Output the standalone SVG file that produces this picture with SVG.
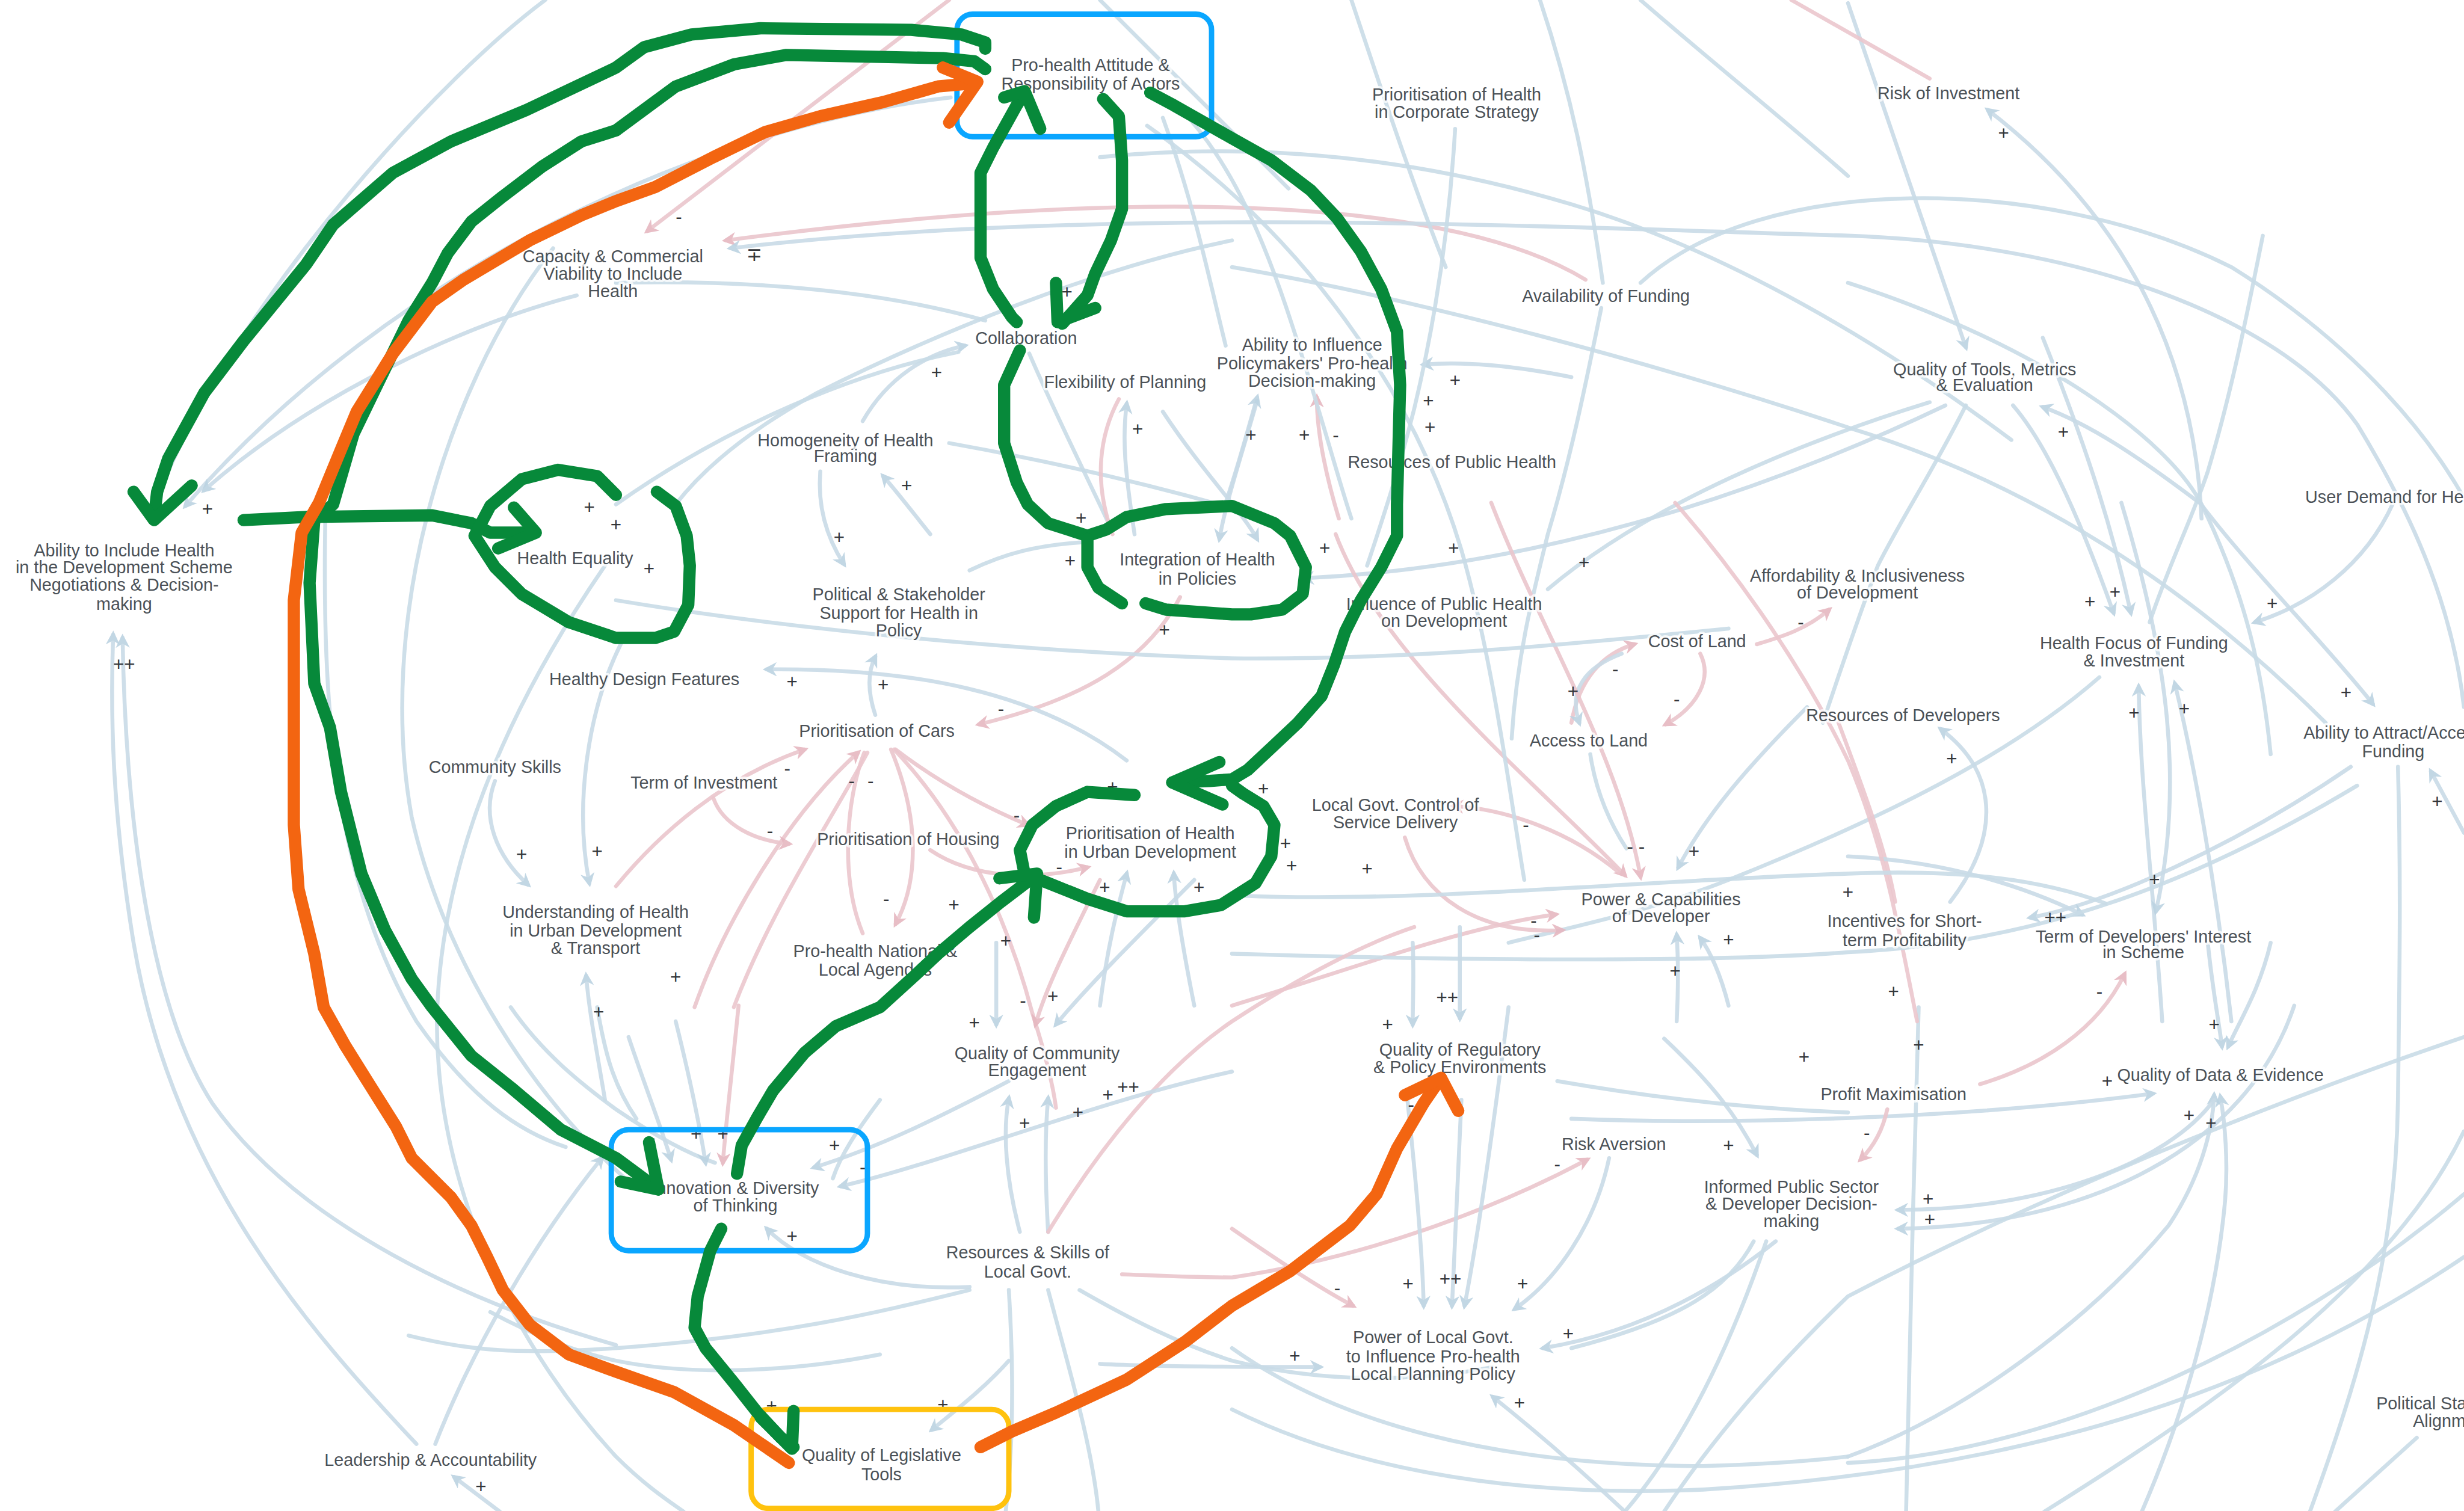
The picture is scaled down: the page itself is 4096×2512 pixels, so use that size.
<svg xmlns="http://www.w3.org/2000/svg" width="4096" height="2512" viewBox="0 0 4096 2512">
  <defs>
    <style>
      .c path{fill:none;stroke-width:2.5;stroke-linecap:round}
      .b{stroke:#c9dbe7;opacity:.9}
      .p{stroke:#ebc6cd;opacity:.9}
      .ab{marker-end:url(#mb)}
      .ap{marker-end:url(#mp)}
      .node text{font-family:"Liberation Sans",Arial,sans-serif;font-size:11px;fill:#4b5157;text-anchor:middle;paint-order:stroke;stroke:#ffffff;stroke-width:3;stroke-opacity:.75;stroke-linejoin:round}
      .s text{font-family:"Liberation Sans","DejaVu Sans",Arial,sans-serif;font-size:12px;fill:#33363a;text-anchor:middle}
      .g{fill:none;stroke:#07893a;stroke-width:7.8;stroke-linecap:round;stroke-linejoin:round}
      .o{fill:none;stroke:#f36511;stroke-width:7.8;stroke-linecap:round;stroke-linejoin:round}
      .box{fill:none;stroke-width:3.4}
    </style>
    <marker id="mb" viewBox="0 0 10 10" refX="7" refY="5" markerWidth="3.6" markerHeight="3.6" orient="auto" markerUnits="strokeWidth">
      <path d="M0,0 L10,5 L0,10 L3,5 z" fill="#bcd3e2"/>
    </marker>
    <marker id="mp" viewBox="0 0 10 10" refX="7" refY="5" markerWidth="3.6" markerHeight="3.6" orient="auto" markerUnits="strokeWidth">
      <path d="M0,0 L10,5 L0,10 L3,5 z" fill="#e6b7c0"/>
    </marker>
  </defs>
  <rect width="4096" height="2512" fill="#ffffff"/>
  <g transform="scale(2.6122)">
    <!-- causal links -->
    <g id="connectors" class="c">
      <path class="b" d="M347 0 C280 50 160 180 107 300"/>
      <path class="b ab" d="M605 62 C450 80 250 170 118 322"/>
      <path class="b ab" d="M367 188 C300 205 200 250 130 312"/>
      <path class="b" d="M352 158 C280 250 240 400 262 520 C280 600 330 690 400 752"/>
      <path class="b ab" d="M265 919 C200 850 110 750 85 600 C72 520 70 460 72 404"/>
      <path class="b ab" d="M392 856 C300 830 190 780 135 702 C95 640 80 520 78 406"/>
      <path class="b ab" d="M277 919 C300 860 340 790 383 737"/>
      <path class="b ab" d="M318 962 L289 940"/>
      <path class="b" d="M385 360 C330 440 280 540 278 650 C278 760 330 860 392 927 C410 945 425 955 435 962"/>
      <path class="b ab" d="M315 497 C306 520 316 545 336 563"/>
      <path class="b ab" d="M395 410 C375 450 365 510 375 562"/>
      <path class="b ab" d="M385 700 C380 670 375 645 373 621"/>
      <path class="b" d="M207 331 C205 450 212 560 265 650 C300 700 330 720 360 730"/>
      <path class="b" d="M325 641 C345 670 370 690 392 706 C420 725 440 735 455 740"/>
      <path class="b" d="M380 641 C385 670 390 690 405 712"/>
      <path class="b" d="M312 835 C340 850 365 860 392 866 C450 878 520 870 560 862"/>
      <path class="p ap" d="M604 0 L412 147"/>
      <path class="p ap" d="M1009 178 C930 130 750 115 462 153"/>
      <path class="b ab" d="M1568 450 C1560 380 1531 321 1500 270 C1450 200 1320 155 1176 150 C1000 145 700 130 465 158"/>
      <path class="b" d="M392 180 C480 178 560 185 627 204"/>
      <path class="b ab" d="M549 268 C565 240 590 225 614 220"/>
      <path class="b ab" d="M592 340 C580 325 570 312 562 303"/>
      <path class="b" d="M392 321 C450 280 530 240 610 224"/>
      <path class="b" d="M784 153 C700 170 600 210 520 250 C480 272 450 295 430 321"/>
      <path class="b" d="M604 282 C660 292 720 305 790 325"/>
      <path class="b" d="M655 225 C670 260 690 300 705 332"/>
      <path class="p" d="M712 254 C698 280 697 310 708 340"/>
      <path class="b ab" d="M722 340 C716 300 714 280 717 257"/>
      <path class="b ab" d="M800 255 C790 290 780 320 776 343"/>
      <path class="b ab" d="M740 262 C765 300 790 325 800 343"/>
      <path class="b ab" d="M1000 240 C960 232 930 230 906 232"/>
      <path class="b ab" d="M780 320 C790 290 795 270 800 253"/>
      <path class="p ap" d="M852 330 C843 300 838 275 838 253"/>
      <path class="b" d="M926 82 C922 150 912 210 900 260 C890 300 880 330 870 360"/>
      <path class="b" d="M1019 196 C1010 240 1000 290 985 340 C975 380 965 420 962 470"/>
      <path class="b" d="M1228 256 C1150 280 1050 320 985 375"/>
      <path class="b ab" d="M1238 258 C1150 300 1000 360 830 368"/>
      <path class="b" d="M1251 258 C1230 300 1210 330 1195 360 C1180 400 1170 430 1160 460"/>
      <path class="b ab" d="M1176 2 L1251 221"/>
      <path class="p" d="M1140 0 L1228 50"/>
      <path class="b ab" d="M1401 330 C1395 200 1330 120 1265 70"/>
      <path class="b" d="M1044 180 C1120 110 1300 110 1420 170 C1500 220 1550 280 1575 330"/>
      <path class="b" d="M1176 180 C1300 220 1380 280 1401 321 C1430 380 1440 430 1445 480"/>
      <path class="b" d="M1044 0 C1090 40 1140 80 1176 112"/>
      <path class="b ab" d="M1281 258 C1300 280 1320 320 1345 390"/>
      <path class="b ab" d="M1401 321 C1360 290 1330 270 1300 259"/>
      <path class="b ab" d="M1300 215 C1330 290 1345 340 1356 390"/>
      <path class="b" d="M1368 396 C1380 360 1395 330 1405 300 C1420 250 1430 200 1440 150"/>
      <path class="b ab" d="M1523 320 C1505 360 1470 385 1435 396"/>
      <path class="b ab" d="M1400 320 C1430 360 1480 410 1510 448"/>
      <path class="b ab" d="M1568 530 L1547 491"/>
      <path class="b" d="M1526 488 C1528 560 1527 620 1526 700 C1525 800 1500 880 1470 962"/>
      <path class="b ab" d="M1496 488 C1420 540 1340 575 1292 584"/>
      <path class="b ab" d="M1376 650 C1370 560 1362 500 1361 437"/>
      <path class="b ab" d="M1420 650 C1410 560 1395 480 1384 435"/>
      <path class="b" d="M1336 431 C1280 480 1200 520 1100 560 C1050 580 1000 590 960 600"/>
      <path class="b ab" d="M1241 574 C1275 530 1270 490 1235 464"/>
      <path class="p" d="M1170 460 C1185 500 1200 540 1206 574"/>
      <path class="b ab" d="M1176 545 C1240 548 1290 565 1325 582"/>
      <path class="b ab" d="M1350 320 C1380 420 1390 500 1372 580"/>
      <path class="p ap" d="M1260 690 C1300 678 1335 655 1352 620"/>
      <path class="b ab" d="M1405 600 C1408 630 1412 650 1414 666"/>
      <path class="b ab" d="M1445 600 C1438 630 1425 650 1418 666"/>
      <path class="b ab" d="M1176 927 C1250 900 1330 840 1380 780 C1400 750 1408 720 1409 697"/>
      <path class="b ab" d="M1363 962 C1390 900 1410 830 1416 764 C1418 740 1416 715 1413 698"/>
      <path class="b ab" d="M1000 712 C1100 716 1250 712 1370 696"/>
      <path class="p ap" d="M1201 706 C1198 720 1192 730 1184 738"/>
      <path class="b ab" d="M1409 700 C1380 740 1300 770 1208 770"/>
      <path class="b ab" d="M1460 640 C1430 730 1330 780 1208 782"/>
      <path class="b" d="M1176 931 C1300 925 1450 860 1568 760"/>
      <path class="b" d="M1301 962 C1400 900 1520 820 1568 720"/>
      <path class="b" d="M1538 915 L1486 962"/>
      <path class="b" d="M1221 641 C1218 750 1215 850 1213 962"/>
      <path class="b" d="M1059 962 C1100 900 1150 850 1176 825 C1300 760 1450 700 1568 660"/>
      <path class="p ap" d="M1000 460 C1005 432 1020 416 1040 410"/>
      <path class="b ab" d="M1032 416 C1008 425 998 440 1005 460"/>
      <path class="p ap" d="M1082 416 C1090 432 1080 450 1060 461"/>
      <path class="p ap" d="M1118 410 C1135 405 1150 400 1164 388"/>
      <path class="p" d="M1066 320 C1110 370 1150 430 1176 484 C1200 540 1210 600 1220 650"/>
      <path class="p ap" d="M949 320 C980 400 1030 480 1044 558"/>
      <path class="p ap" d="M850 340 C880 420 980 500 1034 557"/>
      <path class="p ap" d="M1030 555 C1000 530 960 515 925 513"/>
      <path class="p ap" d="M894 533 C905 570 940 595 994 592"/>
      <path class="p ap" d="M784 640 C850 620 930 590 990 582"/>
      <path class="b" d="M1012 480 C1015 500 1022 520 1035 540"/>
      <path class="b ab" d="M1150 450 C1110 490 1085 520 1068 552"/>
      <path class="b" d="M790 570 C900 575 1050 560 1176 556 C1250 553 1300 560 1340 575"/>
      <path class="b" d="M784 607 C950 612 1100 612 1176 606 C1300 600 1400 560 1500 500"/>
      <path class="b ab" d="M1067 650 C1068 630 1068 610 1067 595"/>
      <path class="b ab" d="M1100 640 C1095 620 1088 605 1082 597"/>
      <path class="p ap" d="M392 564 C420 530 460 495 512 477"/>
      <path class="p ap" d="M442 641 C460 590 500 520 546 479"/>
      <path class="p" d="M467 641 C490 580 530 520 552 479"/>
      <path class="p" d="M549 594 C535 560 538 510 550 479"/>
      <path class="p ap" d="M567 477 C585 520 585 560 570 588"/>
      <path class="p ap" d="M570 477 C600 500 630 515 654 525"/>
      <path class="p" d="M569 477 C610 520 640 580 657 645 C665 670 670 690 672 705"/>
      <path class="p ap" d="M454 508 C460 525 480 535 502 537"/>
      <path class="p ap" d="M592 541 C620 560 660 560 692 552"/>
      <path class="p ap" d="M751 380 C730 420 690 445 623 461"/>
      <path class="b ab" d="M557 455 C552 440 552 428 557 418"/>
      <path class="b ab" d="M717 484 C660 440 580 425 488 426"/>
      <path class="b" d="M392 382 C500 400 650 415 784 419 C900 420 1000 410 1100 400"/>
      <path class="b ab" d="M522 300 C520 325 528 345 537 359"/>
      <path class="b" d="M617 363 C640 352 660 347 690 345"/>
      <path class="b ab" d="M700 640 C705 600 712 575 717 556"/>
      <path class="b ab" d="M760 640 C752 600 748 575 747 556"/>
      <path class="b ab" d="M634 600 C634 620 634 640 634 652"/>
      <path class="p ap" d="M700 560 C680 600 665 630 659 652"/>
      <path class="b ab" d="M760 560 C720 600 690 630 672 652"/>
      <path class="b ab" d="M649 784 C640 750 638 720 642 699"/>
      <path class="b ab" d="M667 784 C665 750 665 720 667 699"/>
      <path class="p" d="M667 784 C700 730 740 680 784 650 C830 620 870 600 900 590"/>
      <path class="b ab" d="M617 819 C560 822 510 805 488 782"/>
      <path class="b" d="M617 821 C560 835 500 850 392 858 C330 862 300 860 260 850"/>
      <path class="b ab" d="M642 688 C600 710 560 730 518 743"/>
      <path class="b ab" d="M784 682 C700 700 600 740 535 755"/>
      <path class="b ab" d="M642 866 C625 885 605 900 593 910"/>
      <path class="b" d="M642 821 C645 870 645 920 640 962"/>
      <path class="b" d="M667 821 C680 870 695 920 699 962"/>
      <path class="b" d="M687 821 C720 840 750 855 784 866 C840 880 900 880 950 870"/>
      <path class="p ap" d="M714 811 C740 812 760 813 784 813 C870 800 950 770 1010 738"/>
      <path class="p ap" d="M784 782 C810 800 840 820 861 831"/>
      <path class="b ab" d="M895 694 C900 740 905 790 906 831"/>
      <path class="b ab" d="M930 700 C928 750 926 790 924 831"/>
      <path class="b ab" d="M960 641 C950 720 940 790 932 831"/>
      <path class="b ab" d="M1024 737 C1015 780 990 815 964 833"/>
      <path class="b ab" d="M1130 790 C1080 830 1030 850 982 858"/>
      <path class="b ab" d="M700 868 C740 870 800 870 840 870"/>
      <path class="b ab" d="M1034 962 C1000 930 970 905 950 889"/>
      <path class="b ab" d="M1059 661 C1090 690 1105 710 1118 735"/>
      <path class="b" d="M991 688 C1060 700 1120 706 1176 708"/>
      <path class="b" d="M784 858 C850 905 950 933 1084 933 C1120 932 1150 930 1176 927"/>
      <path class="b" d="M784 897 C850 930 950 954 1084 948 C1300 935 1450 880 1568 800"/>
      <path class="b" d="M1116 790 C1100 820 1070 840 1000 858"/>
      <path class="b" d="M1124 790 C1100 860 1070 920 1034 962"/>
      <path class="b ab" d="M899 600 C900 620 899 640 899 652"/>
      <path class="b ab" d="M929 590 C929 615 929 630 929 648"/>
      <path class="b ab" d="M400 660 C410 690 420 715 427 738"/>
      <path class="b ab" d="M430 650 C440 690 445 715 449 740"/>
      <path class="p ap" d="M470 640 C465 690 462 715 460 740"/>
      <path class="b" d="M560 700 C545 720 535 735 530 750"/>
      <path class="b" d="M784 170 C900 190 1050 230 1176 272 C1300 310 1400 380 1480 460"/>
      <path class="b" d="M700 100 C800 90 900 100 1000 130 C1100 160 1200 220 1280 280"/>
      <path class="b" d="M860 0 C880 60 900 120 920 170"/>
      <path class="b" d="M700 0 C740 40 780 80 820 120"/>
      <path class="b" d="M980 0 C1000 60 1010 110 1020 180"/>
      <path class="b" d="M752 70 C780 100 800 140 820 200 C840 260 850 300 860 330"/>
      <path class="b" d="M740 75 C760 130 770 180 780 220"/>
      <path class="b" d="M730 80 C830 150 900 250 930 350 C950 420 960 500 970 560"/>
    </g>

    <!-- variables -->
    <g id="n-prohealth-attitude" class="node"><text><tspan x="694" y="45">Pro-health Attitude &amp;</tspan><tspan x="694" y="57">Responsibility of Actors</tspan></text></g>
    <g id="n-corporate-strategy" class="node"><text><tspan x="927" y="64">Prioritisation of Health</tspan><tspan x="927" y="75">in Corporate Strategy</tspan></text></g>
    <g id="n-risk-investment" class="node"><text><tspan x="1240" y="63">Risk of Investment</tspan></text></g>
    <g id="n-capacity" class="node"><text><tspan x="390" y="167">Capacity &amp; Commercial</tspan><tspan x="390" y="178">Viability to Include</tspan><tspan x="390" y="189">Health</tspan></text></g>
    <g id="n-collaboration" class="node"><text><tspan x="653" y="219">Collaboration</tspan></text></g>
    <g id="n-funding" class="node"><text><tspan x="1022" y="192">Availability of Funding</tspan></text></g>
    <g id="n-influence-policymakers" class="node"><text><tspan x="835" y="223">Ability to Influence</tspan><tspan x="835" y="235">Policymakers' Pro-health</tspan><tspan x="835" y="246">Decision-making</tspan></text></g>
    <g id="n-flexibility" class="node"><text><tspan x="716" y="247">Flexibility of Planning</tspan></text></g>
    <g id="n-tools-metrics" class="node"><text><tspan x="1263" y="239">Quality of Tools, Metrics</tspan><tspan x="1263" y="249">&amp; Evaluation</tspan></text></g>
    <g id="n-homogeneity" class="node"><text><tspan x="538" y="284">Homogeneity of Health</tspan><tspan x="538" y="294">Framing</tspan></text></g>
    <g id="n-public-health-resources" class="node"><text><tspan x="924" y="298">Resources of Public Health</tspan></text></g>
    <g id="n-user-demand" class="node"><text style="text-anchor:start"><tspan x="1467" y="320">User Demand for Health</tspan></text></g>
    <g id="n-include-health" class="node"><text><tspan x="79" y="354">Ability to Include Health</tspan><tspan x="79" y="365">in the Development Scheme</tspan><tspan x="79" y="376">Negotiations &amp; Decision-</tspan><tspan x="79" y="388">making</tspan></text></g>
    <g id="n-health-equality" class="node"><text><tspan x="366" y="359">Health Equality</tspan></text></g>
    <g id="n-integration" class="node"><text><tspan x="762" y="360">Integration of Health</tspan><tspan x="762" y="372">in Policies</tspan></text></g>
    <g id="n-political-support" class="node"><text><tspan x="572" y="382">Political &amp; Stakeholder</tspan><tspan x="572" y="394">Support for Health in</tspan><tspan x="572" y="405">Policy</tspan></text></g>
    <g id="n-affordability" class="node"><text><tspan x="1182" y="370">Affordability &amp; Inclusiveness</tspan><tspan x="1182" y="381">of Development</tspan></text></g>
    <g id="n-influence-ph" class="node"><text><tspan x="919" y="388">Influence of Public Health</tspan><tspan x="919" y="399">on Development</tspan></text></g>
    <g id="n-health-focus" class="node"><text><tspan x="1358" y="413">Health Focus of Funding</tspan><tspan x="1358" y="424">&amp; Investment</tspan></text></g>
    <g id="n-cost-land" class="node"><text><tspan x="1080" y="412">Cost of Land</tspan></text></g>
    <g id="n-healthy-design" class="node"><text><tspan x="410" y="436">Healthy Design Features</tspan></text></g>
    <g id="n-dev-resources" class="node"><text><tspan x="1211" y="459">Resources of Developers</tspan></text></g>
    <g id="n-attract-funding" class="node"><text><tspan x="1523" y="470">Ability to Attract/Access</tspan><tspan x="1523" y="482">Funding</tspan></text></g>
    <g id="n-cars" class="node"><text><tspan x="558" y="469">Prioritisation of Cars</tspan></text></g>
    <g id="n-access-land" class="node"><text><tspan x="1011" y="475">Access to Land</tspan></text></g>
    <g id="n-community-skills" class="node"><text><tspan x="315" y="492">Community Skills</tspan></text></g>
    <g id="n-term-investment" class="node"><text><tspan x="448" y="502">Term of Investment</tspan></text></g>
    <g id="n-service-delivery" class="node"><text><tspan x="888" y="516">Local Govt. Control of</tspan><tspan x="888" y="527">Service Delivery</tspan></text></g>
    <g id="n-health-urban" class="node"><text><tspan x="732" y="534">Prioritisation of Health</tspan><tspan x="732" y="546">in Urban Development</tspan></text></g>
    <g id="n-housing" class="node"><text><tspan x="578" y="538">Prioritisation of Housing</tspan></text></g>
    <g id="n-developer-power" class="node"><text><tspan x="1057" y="576">Power &amp; Capabilities</tspan><tspan x="1057" y="587">of Developer</tspan></text></g>
    <g id="n-short-term" class="node"><text><tspan x="1212" y="590">Incentives for Short-</tspan><tspan x="1212" y="602">term Profitability</tspan></text></g>
    <g id="n-developer-interest" class="node"><text><tspan x="1364" y="600">Term of Developers' Interest</tspan><tspan x="1364" y="610">in Scheme</tspan></text></g>
    <g id="n-understanding" class="node"><text><tspan x="379" y="584">Understanding of Health</tspan><tspan x="379" y="596">in Urban Development</tspan><tspan x="379" y="607">&amp; Transport</tspan></text></g>
    <g id="n-agendas" class="node"><text><tspan x="557" y="609">Pro-health National &amp;</tspan><tspan x="557" y="621">Local Agendas</tspan></text></g>
    <g id="n-community-engagement" class="node"><text><tspan x="660" y="674">Quality of Community</tspan><tspan x="660" y="685">Engagement</tspan></text></g>
    <g id="n-regulatory" class="node"><text><tspan x="929" y="672">Quality of Regulatory</tspan><tspan x="929" y="683">&amp; Policy Environments</tspan></text></g>
    <g id="n-profit" class="node"><text><tspan x="1205" y="700">Profit Maximisation</tspan></text></g>
    <g id="n-data-evidence" class="node"><text><tspan x="1413" y="688">Quality of Data &amp; Evidence</tspan></text></g>
    <g id="n-risk-aversion" class="node"><text><tspan x="1027" y="732">Risk Aversion</tspan></text></g>
    <g id="n-innovation" class="node"><text><tspan x="468" y="760">Innovation &amp; Diversity</tspan><tspan x="468" y="771">of Thinking</tspan></text></g>
    <g id="n-informed" class="node"><text><tspan x="1140" y="759">Informed Public Sector</tspan><tspan x="1140" y="770">&amp; Developer Decision-</tspan><tspan x="1140" y="781">making</tspan></text></g>
    <g id="n-local-govt-skills" class="node"><text><tspan x="654" y="801">Resources &amp; Skills of</tspan><tspan x="654" y="813">Local Govt.</tspan></text></g>
    <g id="n-local-govt-power" class="node"><text><tspan x="912" y="855">Power of Local Govt.</tspan><tspan x="912" y="867">to Influence Pro-health</tspan><tspan x="912" y="878">Local Planning Policy</tspan></text></g>
    <g id="n-political-alignment" class="node"><text><tspan x="1562" y="897">Political Stakeholder</tspan><tspan x="1560" y="908">Alignment</tspan></text></g>
    <g id="n-legislative" class="node"><text><tspan x="561" y="930">Quality of Legislative</tspan><tspan x="561" y="942">Tools</tspan></text></g>
    <g id="n-leadership" class="node"><text><tspan x="274" y="933">Leadership &amp; Accountability</tspan></text></g>

    <!-- link polarities -->
    <g id="polarity" class="s">
      <text x="132" y="328">+</text><text x="432" y="142">-</text><text x="480" y="166">∓</text>
      <text x="596" y="241">+</text><text x="724" y="277">+</text><text x="679" y="190">+</text>
      <text x="796" y="281">+</text><text x="830" y="281">+</text><text x="850" y="281">-</text>
      <text x="926" y="246">+</text><text x="909" y="259">+</text><text x="910" y="276">+</text>
      <text x="577" y="313">+</text><text x="375" y="327">+</text><text x="392" y="338">+</text><text x="413" y="366">+</text>
      <text x="534" y="346">+</text><text x="688" y="334">+</text><text x="681" y="361">+</text><text x="741" y="405">+</text>
      <text x="843" y="353">+</text><text x="925" y="353">+</text><text x="1008" y="362">+</text>
      <text x="504" y="438">+</text><text x="562" y="440">+</text><text x="637" y="455">-</text>
      <text x="1001" y="444">+</text><text x="1028" y="430">-</text><text x="1067" y="449">-</text><text x="1146" y="400">-</text>
      <text x="1275" y="89">+</text><text x="1313" y="279">+</text><text x="1330" y="387">+</text><text x="1346" y="381">+</text><text x="1446" y="388">+</text>
      <text x="1358" y="458">+</text><text x="1390" y="455">+</text><text x="1493" y="445">+</text><text x="1551" y="514">+</text><text x="1242" y="487">+</text>
      <text x="501" y="493">-</text><text x="542" y="501">-</text><text x="554" y="501">-</text><text x="490" y="533">-</text><text x="647" y="523">-</text>
      <text x="79" y="427">++</text>
      <text x="332" y="548">+</text><text x="380" y="546">+</text><text x="381" y="648">+</text>
      <text x="804" y="506">+</text><text x="818" y="541">+</text><text x="822" y="555">+</text><text x="870" y="557">+</text><text x="971" y="529">-</text>
      <text x="1041" y="543">- -</text><text x="1078" y="546">+</text><text x="1100" y="602">+</text><text x="1066" y="622">+</text>
      <text x="976" y="590">-</text><text x="978" y="599">-</text>
      <text x="1176" y="572">+</text><text x="1205" y="635">+</text><text x="1221" y="669">+</text><text x="1148" y="677">+</text><text x="1188" y="725">-</text>
      <text x="1308" y="588">++</text><text x="1371" y="564">+</text><text x="1336" y="635">-</text>
      <text x="1409" y="656">+</text><text x="1393" y="714">+</text><text x="1407" y="719">+</text><text x="1341" y="692">+</text>
      <text x="1227" y="767">+</text><text x="1228" y="780">+</text><text x="1100" y="733">+</text><text x="991" y="745">-</text>
      <text x="430" y="626">+</text><text x="607" y="580">+</text><text x="564" y="576">-</text><text x="640" y="603">+</text><text x="651" y="641">-</text><text x="670" y="638">+</text>
      <text x="703" y="569">+</text><text x="763" y="569">+</text><text x="674" y="556">-</text><text x="708" y="505">+</text>
      <text x="620" y="655">+</text><text x="652" y="719">+</text><text x="686" y="712">+</text><text x="705" y="701">+</text><text x="718" y="696">++</text>
      <text x="443" y="726">+</text><text x="460" y="726">+</text><text x="531" y="733">+</text><text x="549" y="747">-</text><text x="504" y="791">+</text><text x="415" y="728">-</text>
      <text x="491" y="899">+</text><text x="600" y="898">+</text>
      <text x="883" y="656">+</text><text x="921" y="639">++</text><text x="898" y="707">-</text>
      <text x="851" y="824">-</text><text x="896" y="821">+</text><text x="923" y="818">++</text><text x="969" y="821">+</text>
      <text x="998" y="853">+</text><text x="824" y="867">+</text><text x="967" y="897">+</text>
      <text x="306" y="950">+</text>
    </g>

    <!-- hand-drawn highlights -->
    <g id="highlights">
      <rect id="box-prohealth" class="box" x="609" y="9" width="162" height="78" rx="10" stroke="#0aa6ff"/>
      <rect id="box-innovation" class="box" x="389" y="719" width="163" height="77" rx="11" stroke="#0aa6ff"/>
      <rect id="box-legislative" class="box" x="478" y="897" width="164" height="63" rx="11" stroke="#ffc20e"/>

      <path class="g" d="M627 31 L627 27 L612 22 L580 19 L484 18 L440 22 L410 30 L392 43 L335 70 L287 90 L250 110 L212 143 L195 168 L155 217 L130 250 L107 292 L100 313 L98 330"/>
      <path class="g" d="M85 313 L98 331 L122 309"/>
      <path class="g" d="M627 44 L620 39 L600 37 L500 35 L467 41 L430 55 L392 83 L370 90 L345 106 L320 125 L300 141 L285 161 L275 180 L260 204 L240 245 L225 276 L212 321 L200 331 L197 371 L200 435 L210 463 L217 504 L230 556 L245 592 L262 623 L275 641 L300 672 L325 692 L357 719 L392 737 L419 757"/>
      <path class="g" d="M413 727 L419 757 L395 752"/>
      <path class="g" d="M155 331 L195 329 L275 328 L300 333 L312 339 L340 339"/>
      <path class="g" d="M327 323 L341 339 L317 349"/>
      <path class="g" d="M392 315 L380 303 L355 299 L332 305 L312 322 L302 341 L315 361 L332 378 L362 396 L392 406 L417 406 L429 402 L438 385 L439 360 L437 341 L430 322 L418 313"/>
      <path class="g" d="M647 205 L644 202 L632 184 L624 164 L624 110 L632 94 L647 67 L652 59"/>
      <path class="g" d="M639 62 L652 58 L662 82"/>
      <path class="g" d="M702 63 L712 74 L714 102 L714 133 L707 153 L697 174 L692 188 L676 206"/>
      <path class="g" d="M672 180 L673 205 L697 196"/>
      <path class="g" d="M649 223 L639 245 L639 282 L647 307 L654 321 L667 333 L692 341 L704 337 L717 329 L742 324 L784 322 L811 333 L821 341 L831 361 L829 378 L816 388 L796 391 L784 391 L742 388 L729 384"/>
      <path class="g" d="M692 343 L692 361 L699 374 L714 384"/>
      <path class="g" d="M732 59 L747 67 L784 88 L809 102 L834 121 L851 139 L866 160 L879 184 L889 211 L891 245 L889 321 L889 341 L879 361 L866 382 L856 402 L849 423 L841 443 L826 460 L809 476 L794 490 L784 496 L770 497 L746 498"/>
      <path class="g" d="M776 485 L746 498 L778 512"/>
      <path class="g" d="M722 506 L692 504 L672 513 L657 525 L649 541 L652 556 L667 562 L692 572 L717 580 L754 580 L777 576 L799 562 L809 545 L811 525 L804 513 L791 505 L784 500"/>
      <path class="g" d="M469 747 L472 729 L482 711 L492 694 L512 670 L532 653 L560 641 L582 621 L597 607 L617 590 L637 574 L658 558"/>
      <path class="g" d="M636 559 L660 556 L658 584"/>
      <path class="g" d="M459 782 L452 796 L444 825 L442 845 L449 858 L467 880 L482 899 L497 915 L505 921"/>
      <path class="g" d="M484 902 L504 922 L505 898"/>

      <path class="o" d="M502 931 L467 907 L429 886 L392 873 L362 862 L337 843 L320 821 L310 800 L300 780 L287 762 L262 737 L252 717 L235 690 L220 666 L206 641 L200 607 L190 566 L187 525 L187 382 L192 339 L203 320 L217 286 L227 262 L250 225 L275 192 L295 178 L337 153 L370 137 L392 128 L417 119 L454 100 L487 84 L522 74 L562 65 L597 55 L620 53"/>
      <path class="o" d="M600 43 L622 52 L604 78"/>
      <path class="o" d="M624 921 L644 911 L672 899 L717 878 L754 854 L784 831 L821 809 L859 780 L876 760 L889 731 L906 702 L917 686"/>
      <path class="o" d="M894 697 L917 686 L928 707"/>
    </g>
  </g>
</svg>
